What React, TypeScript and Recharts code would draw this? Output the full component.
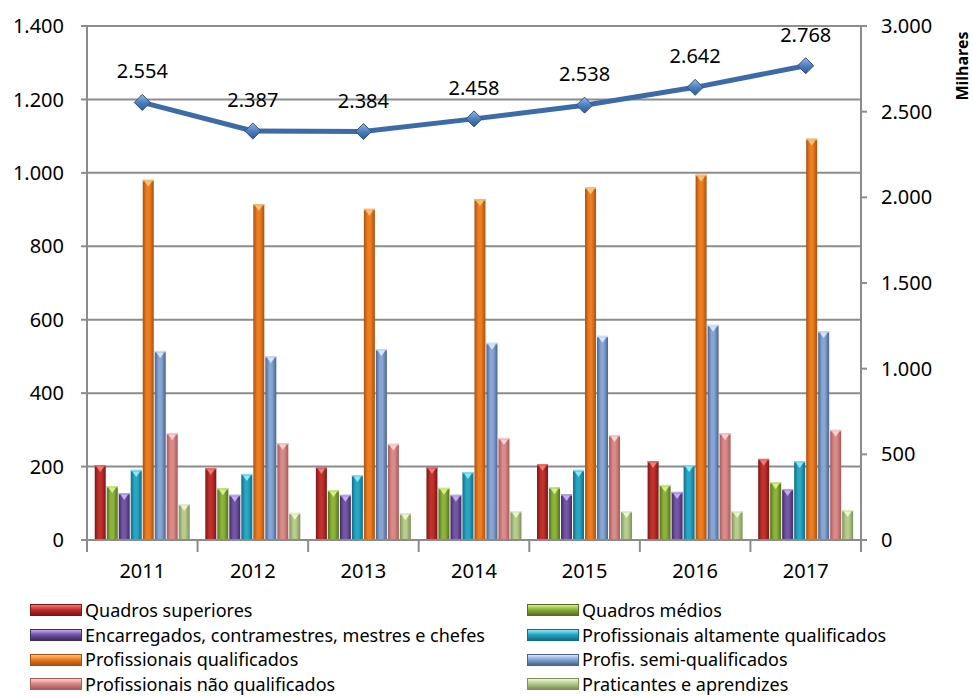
import React from "react";
import {
  ComposedChart,
  Bar,
  Line,
  XAxis,
  YAxis,
  CartesianGrid,
  LabelList,
} from "recharts";

const years = ["2011", "2012", "2013", "2014", "2015", "2016", "2017"];

const quadrosSuperiores = [204, 196, 199, 199, 207, 215, 221];
const quadrosMedios = [147, 141, 136, 142, 144, 150, 158];
const encarregados = [128, 123, 123, 123, 125, 131, 139];
const altamenteQualificados = [191, 180, 177, 185, 191, 204, 215];
const qualificados = [981, 915, 902, 928, 960, 995, 1093];
const semiQualificados = [515, 501, 520, 537, 556, 586, 569];
const naoQualificados = [291, 264, 262, 278, 286, 291, 300];
const praticantes = [98, 74, 73, 79, 79, 79, 82];

// total, milhares (eixo direito)
const total = [2554, 2387, 2384, 2458, 2538, 2642, 2768];

const leftTicks = [0, 200, 400, 600, 800, 1000, 1200, 1400];
const rightTicks = [0, 500, 1000, 1500, 2000, 2500, 3000];

const series = [
  { key: "qs", name: "Quadros superiores", values: quadrosSuperiores, dark: "#7d1616", mid: "#c0302c", light: "#f07a74" },
  { key: "qm", name: "Quadros médios", values: quadrosMedios, dark: "#56701c", mid: "#8cb43a", light: "#d3ef8c" },
  { key: "enc", name: "Encarregados, contramestres, mestres e chefes", values: encarregados, dark: "#3f2b66", mid: "#7556a6", light: "#c4adf0" },
  { key: "aq", name: "Profissionais altamente qualificados", values: altamenteQualificados, dark: "#136c80", mid: "#27a7c6", light: "#8ee8fb" },
  { key: "pq", name: "Profissionais qualificados", values: qualificados, dark: "#a8520f", mid: "#ee7d22", light: "#ffc27a" },
  { key: "sq", name: "Profis. semi-qualificados", values: semiQualificados, dark: "#4a6490", mid: "#87a6d4", light: "#d4e6ff" },
  { key: "nq", name: "Profissionais não qualificados", values: naoQualificados, dark: "#a85a5a", mid: "#d98b8a", light: "#ffd0d0" },
  { key: "pa", name: "Praticantes e aprendizes", values: praticantes, dark: "#7f9159", mid: "#b8cc8e", light: "#eaf6cf" },
];

const data = years.map((year, i) => {
  const row: Record<string, string | number> = { year, total: total[i] };
  series.forEach((s) => {
    row[s.key] = s.values[i];
  });
  return row;
});

const fmt = (v: number) => String(v).replace(/\B(?=(\d{3})+(?!\d))/g, ".");

const FONT = "'Noto Sans', 'Open Sans', sans-serif";

function CylBar(props: any) {
  const { x, y, width, height, gid, light } = props;
  if (!height || height <= 0) return null;
  const tw = Math.min(width * 0.35, 6);
  return (
    <g>
      <rect x={x} y={y} width={width} height={height} fill={`url(#${gid})`} />
      <rect x={x} y={y} width={width} height={1.5} fill={light} opacity={0.9} />
      <path
        d={`M${x + width / 2 - tw},${y + 1.5} L${x + width / 2 + tw},${y + 1.5} L${x + width / 2},${y + 7} Z`}
        fill={light}
      />
    </g>
  );
}

function Diamond(props: any) {
  const { cx, cy } = props;
  if (cx == null || cy == null) return null;
  const r = 8;
  return (
    <path
      d={`M${cx},${cy - r} L${cx + r},${cy} L${cx},${cy + r} L${cx - r},${cy} Z`}
      fill="url(#diamondGrad)"
      stroke="#2b4f80"
      strokeWidth={1}
    />
  );
}

function YearTick(props: any) {
  const { x, y, payload, index, visibleTicksCount } = props;
  const half = payload && payload.offset ? payload.offset : 55.3;
  const axisY = y - 8;
  return (
    <g>
      <line x1={x - half} y1={axisY} x2={x - half} y2={axisY + 12} stroke="#8c8c8c" strokeWidth={2} />
      {index === visibleTicksCount - 1 && (
        <line x1={x + half} y1={axisY} x2={x + half} y2={axisY + 12} stroke="#8c8c8c" strokeWidth={2} />
      )}
      <text x={x} y={axisY + 38} textAnchor="middle" fontSize={20} fill="#000" fontFamily={FONT}>
        {payload.value}
      </text>
    </g>
  );
}

function LegendIcon({ s }: { s: (typeof series)[number] }) {
  return (
    <span
      style={{
        display: "inline-block",
        width: 52,
        height: 12,
        marginRight: 3,
        background: `linear-gradient(to bottom, ${s.light}, ${s.mid} 45%, ${s.dark})`,
        border: `1px solid ${s.dark}`,
        boxSizing: "border-box",
        verticalAlign: "middle",
      }}
    />
  );
}

export default function App() {
  return (
    <div
      style={{
        position: "fixed",
        left: 0,
        top: 0,
        width: 973,
        height: 697,
        background: "#fff",
        fontFamily: FONT,
        overflow: "hidden",
      }}
    >
      <ComposedChart
        width={973}
        height={697}
        data={data}
        margin={{ top: 26, right: 0, bottom: 127, left: 0 }}
        barCategoryGap="7%"
        barGap={1}
      >
        <defs>
          {series.map((s) => (
            <linearGradient key={s.key} id={`g-${s.key}`} x1="0" y1="0" x2="1" y2="0">
              <stop offset="0%" stopColor={s.dark} />
              <stop offset="35%" stopColor={s.mid} />
              <stop offset="60%" stopColor={s.mid} />
              <stop offset="100%" stopColor={s.dark} />
            </linearGradient>
          ))}
          <linearGradient id="diamondGrad" x1="0" y1="0" x2="0" y2="1">
            <stop offset="0%" stopColor="#9ab8e4" />
            <stop offset="50%" stopColor="#4f7fc0" />
            <stop offset="100%" stopColor="#2e5a96" />
          </linearGradient>
        </defs>
        <CartesianGrid vertical={false} stroke="#8c8c8c" strokeWidth={2} yAxisId="left" />
        <XAxis
          dataKey="year"
          height={30}
          stroke="#8c8c8c"
          strokeWidth={2}
          tickLine={false}
          tick={<YearTick />}
          interval={0}
        />
        <YAxis
          yAxisId="left"
          width={87}
          domain={[0, 1400]}
          ticks={leftTicks}
          tickFormatter={fmt}
          stroke="#8c8c8c"
          strokeWidth={2}
          tickSize={6}
          tickMargin={17}
          tick={{ fill: "#000", fontSize: 20, fontFamily: FONT }}
          interval={0}
        />
        <YAxis
          yAxisId="right"
          orientation="right"
          width={112}
          domain={[0, 3000]}
          ticks={rightTicks}
          tickFormatter={fmt}
          stroke="#8c8c8c"
          strokeWidth={2}
          tickSize={6}
          tickMargin={14}
          tick={{ fill: "#000", fontSize: 20, fontFamily: FONT, textAnchor: "start" }}
          interval={0}
        />
        {series.map((s) => (
          <Bar
            key={s.key}
            yAxisId="left"
            dataKey={s.key}
            name={s.name}
            fill={s.mid}
            isAnimationActive={false}
            shape={(p: any) => <CylBar {...p} gid={`g-${s.key}`} light={s.light} />}
          />
        ))}
        <Line
          yAxisId="right"
          dataKey="total"
          stroke="#3d6aa8"
          strokeWidth={5}
          dot={<Diamond />}
          activeDot={false}
          isAnimationActive={false}
        >
          <LabelList
            dataKey="total"
            position="top"
            offset={24}
            formatter={(v: any) => fmt(Number(v))}
            style={{ fontSize: 20, fill: "#000", fontFamily: FONT }}
          />
        </Line>
      </ComposedChart>

      <div
        style={{
          position: "absolute",
          left: 962,
          top: 66,
          transform: "translate(-50%, -50%) rotate(-90deg)",
          fontWeight: "bold",
          fontSize: 16,
          whiteSpace: "nowrap",
        }}
      >
        Milhares
      </div>

      <div
        style={{
          position: "absolute",
          left: 30,
          top: 597,
          display: "grid",
          gridTemplateColumns: "497px 420px",
          gridAutoRows: "24.6px",
          alignItems: "center",
          fontSize: 18,
          lineHeight: "20px",
        }}
      >
        {series.map((s) => (
          <div key={s.key} style={{ whiteSpace: "nowrap" }}>
            <LegendIcon s={s} />
            <span style={{ verticalAlign: "middle" }}>{s.name}</span>
          </div>
        ))}
      </div>
    </div>
  );
}
